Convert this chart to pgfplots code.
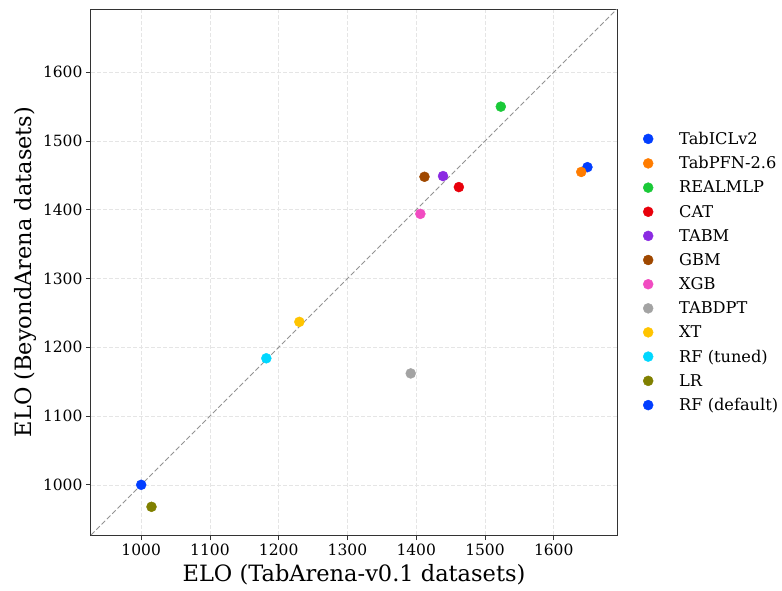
\documentclass[border=0pt]{standalone}
\usepackage{fontspec}
\setmainfont{DejaVu Serif}
\usepackage{pgfplots}
\pgfplotsset{compat=1.18}
\definecolor{cBlue}{HTML}{023EFF}
\definecolor{cOrange}{HTML}{FF7C00}
\definecolor{cGreen}{HTML}{1AC938}
\definecolor{cRed}{HTML}{E8000B}
\definecolor{cPurple}{HTML}{8B2BE2}
\definecolor{cBrown}{HTML}{9F4800}
\definecolor{cPink}{HTML}{F14CC1}
\definecolor{cGray}{HTML}{A3A3A3}
\definecolor{cYellow}{HTML}{FFC400}
\definecolor{cCyan}{HTML}{00D7FF}
\definecolor{cOlive}{HTML}{808000}
\definecolor{frame}{HTML}{333333}
\begin{document}
\begin{tikzpicture}[x=1pt,y=1pt]
\begin{axis}[
  scale only axis,
  width=526pt, height=526pt,
  xmin=927, xmax=1692, ymin=927, ymax=1692,
  xtick={1000,1100,...,1600}, ytick={1000,1100,...,1600},
  tick pos=left, tick align=outside,
  major tick length=5pt,
  every tick/.style={frame, line width=0.8pt},
  axis line style={frame, line width=1pt},
  grid=major,
  major grid style={black!10, dash pattern=on 4pt off 2pt, line width=0.6pt},
  /pgf/number format/assume math mode=true,
  /pgf/number format/1000 sep={},
  tick label style={font=\fontsize{15.5}{16}\selectfont},
  xlabel={ELO (TabArena-v0.1 datasets)},
  ylabel={ELO (BeyondArena datasets)},
  xlabel style={yshift=-2pt},
  label style={font=\fontsize{22.5}{24}\selectfont},
  legend style={at={(1.0,0.5)}, anchor=west, xshift=23pt, draw=none, fill=none,
    font=\fontsize{16.2}{16}\selectfont, row sep=6.7pt,
    /tikz/every even column/.append style={column sep=0pt}},
  legend cell align=left,
  legend image code/.code={\path[draw=none,fill=none] (-5pt,-5pt) rectangle (29pt,5pt); \draw[#1] plot coordinates {(0pt,0pt)};},
]
\addplot[gray!85, dash pattern=on 5pt off 2.5pt, line width=1pt, forget plot] coordinates {(927,927) (1692,1692)};
\addplot[only marks, mark=*, mark size=5pt, color=cBlue] coordinates {(1649,1462)};
\addlegendentry{TabICLv2}
\addplot[only marks, mark=*, mark size=5pt, color=cOrange] coordinates {(1640,1455)};
\addlegendentry{TabPFN-2.6}
\addplot[only marks, mark=*, mark size=5pt, color=cGreen] coordinates {(1523,1550)};
\addlegendentry{REALMLP}
\addplot[only marks, mark=*, mark size=5pt, color=cRed] coordinates {(1462,1433)};
\addlegendentry{CAT}
\addplot[only marks, mark=*, mark size=5pt, color=cPurple] coordinates {(1439,1449)};
\addlegendentry{TABM}
\addplot[only marks, mark=*, mark size=5pt, color=cBrown] coordinates {(1412,1448)};
\addlegendentry{GBM}
\addplot[only marks, mark=*, mark size=5pt, color=cPink] coordinates {(1406,1394)};
\addlegendentry{XGB}
\addplot[only marks, mark=*, mark size=5pt, color=cGray] coordinates {(1392,1162)};
\addlegendentry{TABDPT}
\addplot[only marks, mark=*, mark size=5pt, color=cYellow] coordinates {(1230,1237)};
\addlegendentry{XT}
\addplot[only marks, mark=*, mark size=5pt, color=cCyan] coordinates {(1182,1184)};
\addlegendentry{RF (tuned)}
\addplot[only marks, mark=*, mark size=5pt, color=cOlive] coordinates {(1015,968)};
\addlegendentry{LR}
\addplot[only marks, mark=*, mark size=5pt, color=cBlue] coordinates {(1000,1000)};
\addlegendentry{RF (default)}
\end{axis}
\pgfresetboundingbox
\path[use as bounding box] (-91pt,-55pt) rectangle (691pt,535pt);
\end{tikzpicture}
\end{document}
